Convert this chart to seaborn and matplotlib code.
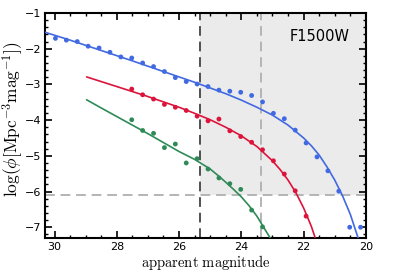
import seaborn as sns
import matplotlib
matplotlib.use("Agg")
import matplotlib.pyplot as plt
from matplotlib.ticker import MultipleLocator
import pandas as pd

# binned luminosity function points (apparent magnitude, log phi)
blue_mag = [29.97, 29.62, 29.27, 28.92, 28.57, 28.22, 27.87, 27.52, 27.17, 26.82,
            26.47, 26.12, 25.77, 25.42, 25.07, 24.72, 24.37, 24.02, 23.67, 23.32,
            22.97, 22.62, 22.27, 21.92, 21.57, 21.22, 20.87, 20.52, 20.17]
blue_phi = [-1.71, -1.76, -1.80, -1.93, -1.98, -2.10, -2.23, -2.26, -2.40, -2.50,
            -2.64, -2.81, -2.92, -2.99, -3.06, -3.16, -3.19, -3.22, -3.31, -3.49,
            -3.81, -3.96, -4.28, -4.64, -5.03, -5.42, -5.99, -7.00, -7.00]

red_mag = [27.52, 27.17, 26.82, 26.47, 26.12, 25.77, 25.42, 25.07, 24.72, 24.37,
           24.02, 23.67, 23.32, 22.97, 22.62, 22.27, 21.92]
red_phi = [-3.13, -3.29, -3.41, -3.56, -3.64, -3.73, -3.89, -4.02, -3.97, -4.30,
           -4.46, -4.62, -4.83, -5.14, -5.51, -5.98, -6.69]

green_mag = [27.52, 27.17, 26.82, 26.47, 26.12, 25.77, 25.42, 25.07, 24.72, 24.37,
             24.02, 23.67, 23.32]
green_phi = [-3.99, -4.29, -4.37, -4.77, -4.67, -5.20, -5.08, -5.37, -5.62, -5.78,
             -5.94, -6.52, -6.99]

# fitted curves
blue_fit_mag = [30.3, 29.5, 28.5, 27.5, 26.5, 25.5, 25.0, 24.5, 24.0, 23.5, 23.0,
                22.5, 22.0, 21.75, 21.5, 21.25, 21.0, 20.75, 20.5, 20.25]
blue_fit_phi = [-1.54, -1.76, -2.05, -2.34, -2.64, -2.94, -3.10, -3.26, -3.44, -3.64,
                -3.86, -4.14, -4.50, -4.72, -4.98, -5.31, -5.68, -6.12, -6.64, -7.30]

red_fit_mag = [28.97, 28.0, 27.0, 26.0, 25.5, 25.0, 24.5, 24.0, 23.5, 23.0, 22.75,
               22.5, 22.25, 22.0, 21.75, 21.62]
red_fit_phi = [-2.79, -3.06, -3.34, -3.64, -3.81, -3.99, -4.20, -4.44, -4.74, -5.14,
               -5.39, -5.68, -6.03, -6.46, -6.98, -7.32]

green_fit_mag = [28.97, 28.5, 28.0, 27.5, 27.0, 26.5, 26.0, 25.5, 25.0, 24.75, 24.5,
                 24.25, 24.0, 23.75, 23.5, 23.25, 23.06]
green_fit_phi = [-3.43, -3.66, -3.90, -4.14, -4.38, -4.63, -4.88, -5.10, -5.37, -5.55,
                 -5.74, -5.94, -6.15, -6.40, -6.69, -7.05, -7.32]

# survey limits
mag_limit_dark = 25.32
mag_limit_light = 23.37
phi_limit = -6.11

colors = {"blue": "#4169e1", "red": "#dc143c", "green": "#2e8b57"}

sns.set_style("ticks", {"axes.edgecolor": "black", "xtick.color": "black",
                        "ytick.color": "black", "text.color": "black",
                        "axes.labelcolor": "black"})
plt.rcParams["font.family"] = ["DejaVu Sans"]
plt.rcParams["mathtext.fontset"] = "cm"

fig = plt.figure(figsize=(4.07, 2.71), dpi=100)
ax = fig.add_axes([0.111, 0.122, 0.788, 0.830])

# shaded region
ax.fill_between([20, mag_limit_dark], phi_limit, -1, color="#ebebeb", lw=0, zorder=0)
ax.axvline(mag_limit_dark, color="#505050", ls=(0, (5, 3)), lw=1.4, zorder=1)
ax.axvline(mag_limit_light, color="#b4b4b4", ls=(0, (5, 3)), lw=1.4, zorder=1)
ax.axhline(phi_limit, color="#b4b4b4", ls=(0, (5, 3)), lw=1.4, zorder=1)

series = [
    ("blue", blue_mag, blue_phi, blue_fit_mag, blue_fit_phi),
    ("red", red_mag, red_phi, red_fit_mag, red_fit_phi),
    ("green", green_mag, green_phi, green_fit_mag, green_fit_phi),
]
for name, m, p, fm, fp in series:
    fit = pd.DataFrame({"mag": fm, "phi": fp})
    pts = pd.DataFrame({"mag": m, "phi": p})
    sns.lineplot(data=fit, x="mag", y="phi", color=colors[name], lw=1.2,
                 sort=False, ax=ax, zorder=3)
    sns.scatterplot(data=pts, x="mag", y="phi", color=colors[name], s=12,
                    edgecolor="none", ax=ax, zorder=4)

ax.set_xlim(30.3, 20)
ax.set_ylim(-7.3, -1)
ax.xaxis.set_major_locator(MultipleLocator(2))
ax.xaxis.set_minor_locator(MultipleLocator(0.5))
ax.yaxis.set_major_locator(MultipleLocator(1))
ax.yaxis.set_minor_locator(MultipleLocator(0.2))
ax.tick_params(which="both", direction="in", top=True, right=True, labelsize=8, pad=3,
               colors="black")
ax.tick_params(which="major", length=5, width=1.2)
ax.tick_params(which="minor", length=2.5, width=1)
for sp in ax.spines.values():
    sp.set_linewidth(1.5)
    sp.set_color("black")

ax.set_xlabel(r"$\mathrm{apparent\ magnitude}$", fontsize=10.5, labelpad=1)
ax.set_ylabel(r"$\log(\phi[\mathrm{Mpc}^{-3}\mathrm{mag}^{-1}])$", fontsize=12.5)
ax.yaxis.set_label_coords(-0.062, 0.53)
ax.text(0.95, 0.93, "F1500W", transform=ax.transAxes, ha="right", va="top", fontsize=10.5)

fig.savefig("out.png", dpi=100)
